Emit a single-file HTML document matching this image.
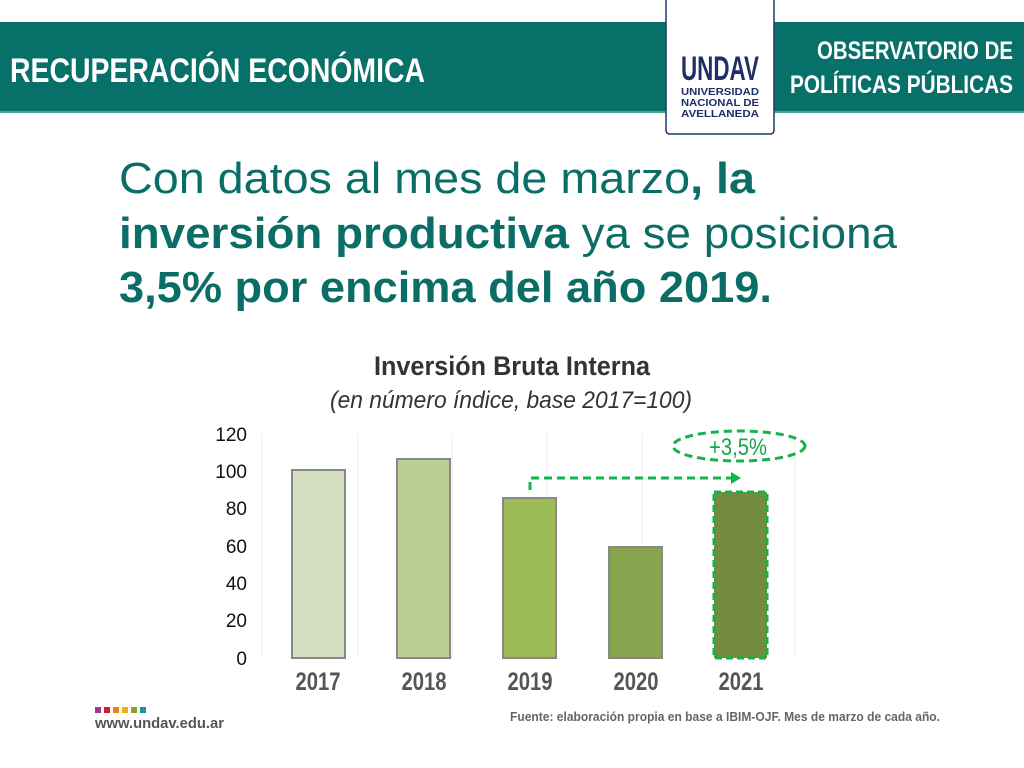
<!DOCTYPE html>
<html><head><meta charset="utf-8"><style>
html,body{margin:0;padding:0;background:#fff;}
svg{display:block;}
text{font-family:"Liberation Sans",sans-serif;}
</style></head><body>
<svg width="1024" height="768" viewBox="0 0 1024 768" xmlns="http://www.w3.org/2000/svg">
<rect width="1024" height="768" fill="#fff"/>
<rect x="0" y="22" width="1024" height="90" fill="#077069"/>
<rect x="0" y="111" width="1024" height="2" fill="#4aa39a"/>
<text x="10" y="82" fill="#fff" font-size="34" font-weight="bold" textLength="415" lengthAdjust="spacingAndGlyphs">RECUPERACIÓN ECONÓMICA</text>
<text x="1013" y="59" fill="#fff" font-size="25" font-weight="bold" text-anchor="end" textLength="196" lengthAdjust="spacingAndGlyphs">OBSERVATORIO DE</text>
<text x="1013" y="93" fill="#fff" font-size="25" font-weight="bold" text-anchor="end" textLength="223" lengthAdjust="spacingAndGlyphs">POLÍTICAS PÚBLICAS</text>
<path d="M666 0 V130 Q666 134 670 134 H770 Q774 134 774 130 V0" fill="#fff" stroke="#1d3a6b" stroke-width="1.5"/>
<text x="681" y="80" fill="#1d2f66" font-size="34" font-weight="bold" textLength="78" lengthAdjust="spacingAndGlyphs">UNDAV</text>
<text x="681" y="95" fill="#1d2f66" font-size="10" font-weight="bold" textLength="78" lengthAdjust="spacingAndGlyphs">UNIVERSIDAD</text>
<text x="681" y="106" fill="#1d2f66" font-size="10" font-weight="bold" textLength="78" lengthAdjust="spacingAndGlyphs">NACIONAL DE</text>
<text x="681" y="117" fill="#1d2f66" font-size="10" font-weight="bold" textLength="78" lengthAdjust="spacingAndGlyphs">AVELLANEDA</text>

<g fill="#0b6e66" font-size="44">
<text x="119" y="193" textLength="636" lengthAdjust="spacingAndGlyphs">Con datos al mes de marzo<tspan font-weight="bold">, la</tspan></text>
<text x="119" y="248" textLength="778" lengthAdjust="spacingAndGlyphs"><tspan font-weight="bold">inversión productiva</tspan> ya se posiciona</text>
<text x="119" y="302" font-weight="bold" textLength="653" lengthAdjust="spacingAndGlyphs">3,5% por encima del año 2019.</text>
</g>

<text x="512" y="375" fill="#333" font-size="27" font-weight="bold" text-anchor="middle" textLength="276" lengthAdjust="spacingAndGlyphs">Inversión Bruta Interna</text>
<text x="511" y="408" fill="#333" font-size="24" font-style="italic" text-anchor="middle" textLength="362" lengthAdjust="spacingAndGlyphs">(en número índice, base 2017=100)</text>

<g stroke="#eee" stroke-width="1">
<line x1="262" y1="434" x2="262" y2="658"/><line x1="358" y1="434" x2="358" y2="658"/>
<line x1="452" y1="434" x2="452" y2="658"/><line x1="547" y1="434" x2="547" y2="658"/>
<line x1="642" y1="434" x2="642" y2="658"/><line x1="795" y1="434" x2="795" y2="658"/>
</g>
<g fill="#111" font-size="19" text-anchor="end">
<text x="247" y="441">120</text><text x="247" y="478">100</text><text x="247" y="515">80</text>
<text x="247" y="553">60</text><text x="247" y="590">40</text><text x="247" y="627">20</text><text x="247" y="665">0</text>
</g>
<g stroke="#888" stroke-width="2">
<rect x="292" y="470" width="53" height="188" fill="#d3dfbf"/>
<rect x="397" y="459" width="53" height="199" fill="#b9cf94"/>
<rect x="503" y="498" width="53" height="160" fill="#9cbb57"/>
<rect x="609" y="547" width="53" height="111" fill="#87a44e"/>
</g>
<rect x="714" y="492" width="53" height="166" fill="#738c40" stroke="#14b24a" stroke-width="3" stroke-dasharray="7,4"/>
<path d="M530 490 V478 H732" fill="none" stroke="#14b24a" stroke-width="3" stroke-dasharray="8,5"/>
<path d="M731 472 L741 478 L731 484 Z" fill="#14b24a"/>
<ellipse cx="739" cy="446" rx="66" ry="15" fill="none" stroke="#14b24a" stroke-width="3" stroke-dasharray="8,5"/>
<text x="738" y="455" fill="#14a64a" font-size="24" text-anchor="middle" textLength="58" lengthAdjust="spacingAndGlyphs">+3,5%</text>
<g fill="#555" font-size="25" font-weight="bold" text-anchor="middle">
<text x="318" y="690" textLength="45" lengthAdjust="spacingAndGlyphs">2017</text><text x="424" y="690" textLength="45" lengthAdjust="spacingAndGlyphs">2018</text><text x="530" y="690" textLength="45" lengthAdjust="spacingAndGlyphs">2019</text>
<text x="636" y="690" textLength="45" lengthAdjust="spacingAndGlyphs">2020</text><text x="741" y="690" textLength="45" lengthAdjust="spacingAndGlyphs">2021</text>
</g>
<rect x="95" y="707" width="6" height="6" fill="#a3338f"/><rect x="104" y="707" width="6" height="6" fill="#d01c2a"/>
<rect x="113" y="707" width="6" height="6" fill="#ef7d1a"/><rect x="122" y="707" width="6" height="6" fill="#eab10e"/>
<rect x="131" y="707" width="6" height="6" fill="#8aa324"/><rect x="140" y="707" width="6" height="6" fill="#1b93a7"/>
<text x="95" y="728" fill="#555" font-size="15" font-weight="bold" textLength="129" lengthAdjust="spacingAndGlyphs">www.undav.edu.ar</text>
<text x="510" y="721" fill="#666" font-size="13" font-weight="bold" textLength="430" lengthAdjust="spacingAndGlyphs">Fuente: elaboración propia en base a IBIM-OJF. Mes de marzo de cada año.</text>
</svg>
</body></html>
